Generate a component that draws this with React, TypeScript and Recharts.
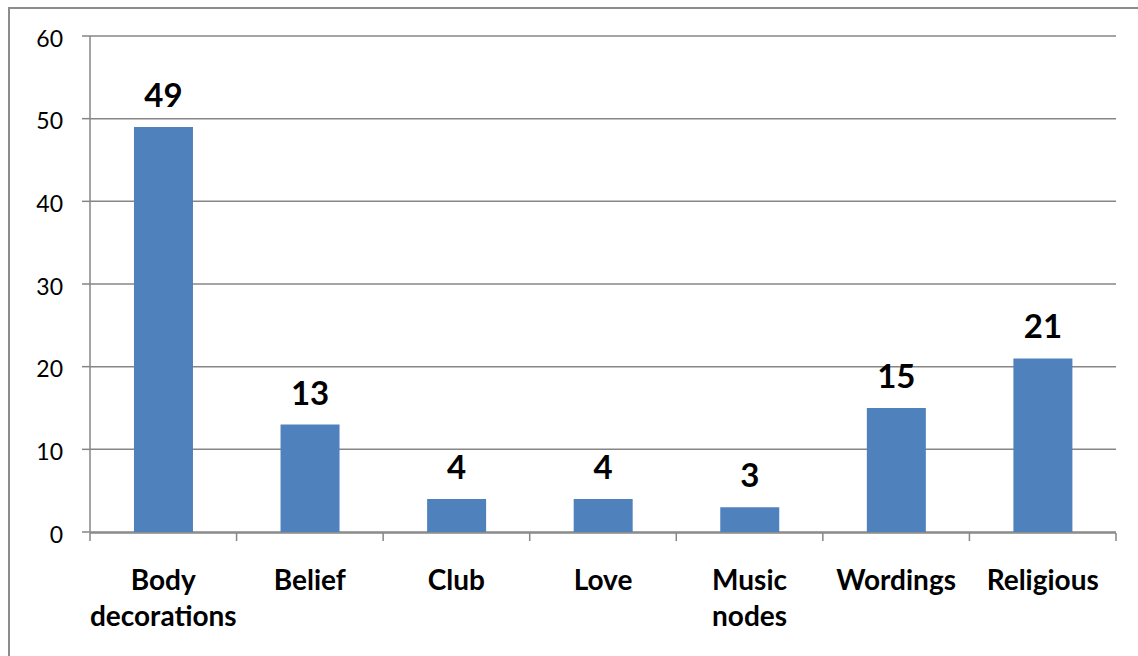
import { Bar, BarChart, CartesianGrid, LabelList, XAxis, YAxis } from "recharts";

const categories = ["Body decorations", "Belief", "Club", "Love", "Music nodes", "Wordings", "Religious"];
const counts = [49, 13, 4, 4, 3, 15, 21];
const yTicks = [0, 10, 20, 30, 40, 50, 60];

// labels that break onto a second line under the axis
const wrapped = ["Body decorations", "Music nodes"];

const FONT = "Lato, 'Open Sans', sans-serif";
const GRAY = "#868686";
const BLUE = "#4F81BD";

const data = categories.map((name, i) => ({ name, count: counts[i] }));
const edgeTicks = categories.map((_, i) => i).concat(categories.length);

function CategoryTick(props: any) {
  const { x, y, payload } = props;
  const label: string = payload.value;
  const lines = wrapped.includes(label) ? label.split(" ") : [label];
  return (
    <text
      x={x}
      y={y}
      textAnchor="middle"
      fill="#000"
      fontFamily={FONT}
      fontWeight={700}
      fontSize={28}
    >
      {lines.map((line, i) => (
        <tspan key={line} x={x} dy={i === 0 ? 58 : 36}>
          {line}
        </tspan>
      ))}
    </text>
  );
}

function ValueTick(props: any) {
  const { x, y, payload } = props;
  return (
    <text x={x} y={y} dy={10.5} textAnchor="end" fill="#000" fontFamily={FONT} fontSize={23}>
      {payload.value}
    </text>
  );
}

export default function App() {
  return (
    <div
      style={{
        position: "absolute",
        left: 0,
        top: 0,
        width: 1138,
        height: 656,
        overflow: "hidden",
        background: "#fff",
      }}
    >
      <div
        style={{
          position: "absolute",
          left: 8,
          top: 7,
          width: 1150,
          height: 670,
          border: "2px solid #8c8c8c",
        }}
      />
      <BarChart
        width={1138}
        height={656}
        data={data}
        margin={{ top: 36, right: 22, bottom: 122, left: 30 }}
        barCategoryGap="30%"
        style={{ position: "absolute", left: 0, top: 0 }}
      >
        <CartesianGrid
          xAxisId="cat"
          vertical={false}
          stroke={GRAY}
          strokeWidth={1.5}
        />
        <XAxis
          xAxisId="edge"
          type="number"
          dataKey={() => 0}
          domain={[0, categories.length]}
          ticks={edgeTicks}
          tick={() => <g />}
          tickSize={8}
          height={1}
          axisLine={{ stroke: GRAY, strokeWidth: 1.5 }}
          tickLine={{ stroke: GRAY, strokeWidth: 1.5 }}
        />
        <XAxis
          xAxisId="cat"
          dataKey="name"
          height={1}
          axisLine={false}
          tickLine={false}
          tickSize={0}
          tickMargin={0}
          interval={0}
          tick={<CategoryTick />}
        />
        <YAxis
          domain={[0, 60]}
          ticks={yTicks}
          width={60}
          tickSize={8}
          tickMargin={19}
          axisLine={{ stroke: GRAY, strokeWidth: 1.5 }}
          tickLine={{ stroke: GRAY, strokeWidth: 1.5 }}
          tick={<ValueTick />}
        />
        <Bar xAxisId="cat" dataKey="count" fill={BLUE} isAnimationActive={false}>
          <LabelList
            dataKey="count"
            position="top"
            offset={20}
            fill="#000"
            fontFamily={FONT}
            fontWeight={700}
            fontSize={33}
          />
        </Bar>
      </BarChart>
    </div>
  );
}
